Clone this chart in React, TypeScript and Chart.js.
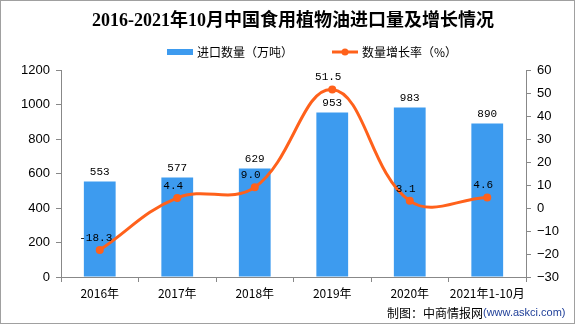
import React, { useEffect, useRef } from "react";
import { Chart, registerables } from "chart.js";

Chart.register(...registerables);

const categories = ["2016年", "2017年", "2018年", "2019年", "2020年", "2021年1-10月"];
const importVolume = [553, 577, 629, 953, 983, 890];
const growthRate = [-18.3, 4.4, 9.0, 51.5, 3.1, 4.6];

const TITLE = "2016-2021年10月中国食用植物油进口量及增长情况";
const BAR_LABEL = "进口数量（万吨）";
const LINE_LABEL = "数量增长率（%）";
const SOURCE_CN = "制图：中商情报网";
const SOURCE_URL = "(www.askci.com)";

const BAR_COLOR = "#3d9bef";
const LINE_COLOR = "#ff611b";
const AXIS_COLOR = "#888888";
const CJK = "'Noto Sans CJK SC', 'Liberation Sans', sans-serif";

const decorPlugin = {
  id: "decor",
  afterDatasetsDraw(chart: any) {
    const ctx = chart.ctx;
    ctx.save();
    const barMeta = chart.getDatasetMeta(0);
    ctx.font = "11px 'Liberation Mono', monospace";
    ctx.fillStyle = "#000";
    ctx.textAlign = "center";
    ctx.textBaseline = "bottom";
    barMeta.data.forEach((el: any, i: number) => {
      ctx.fillText(String(importVolume[i]), el.x, el.y - 4);
    });
    const lineMeta = chart.getDatasetMeta(1);
    ctx.textBaseline = "middle";
    lineMeta.data.forEach((el: any, i: number) => {
      ctx.fillText(growthRate[i].toFixed(1), el.x - 4, el.y - 12);
    });
    ctx.restore();
  },
  afterDraw(chart: any) {
    const ctx = chart.ctx;
    ctx.save();
    ctx.strokeStyle = "#a0a0a0";
    ctx.lineWidth = 1;
    ctx.strokeRect(0.5, 0.5, 574, 323);
    ctx.fillStyle = "#000";
    ctx.font = "bold 18px 'Liberation Serif', 'Noto Sans CJK SC', serif";
    ctx.textAlign = "center";
    ctx.textBaseline = "middle";
    ctx.fillText(TITLE, 293, 21);
    ctx.textAlign = "left";
    ctx.font = "12px " + CJK;
    ctx.fillStyle = BAR_COLOR;
    ctx.fillRect(167, 49, 26, 6);
    ctx.fillStyle = "#000";
    ctx.fillText(BAR_LABEL, 197, 52);
    ctx.strokeStyle = LINE_COLOR;
    ctx.lineWidth = 3;
    ctx.beginPath();
    ctx.moveTo(332, 52);
    ctx.lineTo(358, 52);
    ctx.stroke();
    ctx.fillStyle = LINE_COLOR;
    ctx.beginPath();
    ctx.arc(345, 52, 3.5, 0, Math.PI * 2);
    ctx.fill();
    ctx.fillStyle = "#000";
    ctx.fillText(LINE_LABEL, 362, 52);
    ctx.font = "12px " + CJK;
    ctx.fillText(SOURCE_CN, 387, 313);
    const w = ctx.measureText(SOURCE_CN).width;
    ctx.font = "11px 'Liberation Sans', sans-serif";
    ctx.fillStyle = "#1f3f99";
    ctx.fillText(SOURCE_URL, 387 + w, 313);
    ctx.restore();
  },
};

export default function App() {
  const ref = useRef<HTMLCanvasElement>(null);
  useEffect(() => {
    if (!ref.current) return;
    const chart = new Chart(ref.current, {
      type: "bar",
      data: {
        labels: categories,
        datasets: [
          {
            type: "bar",
            label: BAR_LABEL,
            data: importVolume,
            backgroundColor: BAR_COLOR,
            barPercentage: 0.41,
            categoryPercentage: 1,
            yAxisID: "y",
            order: 2,
          },
          {
            type: "line",
            label: LINE_LABEL,
            data: growthRate,
            borderColor: LINE_COLOR,
            backgroundColor: LINE_COLOR,
            borderWidth: 3,
            pointRadius: 4,
            pointBackgroundColor: LINE_COLOR,
            pointBorderWidth: 0,
            tension: 0.4,
            yAxisID: "y1",
            order: 1,
          } as any,
        ],
      },
      options: {
        responsive: false,
        animation: false,
        devicePixelRatio: 1,
        layout: { padding: { top: 70, left: 0, right: 0, bottom: 0 } },
        plugins: {
          legend: { display: false },
          title: { display: false },
          tooltip: { enabled: false },
        },
        scales: {
          x: {
            offset: true,
            grid: {
              offset: true,
              drawOnChartArea: false,
              tickLength: 5,
              color: AXIS_COLOR,
            },
            border: { color: AXIS_COLOR },
            ticks: {
              color: "#000",
              padding: 4,
              font: { size: 12, family: CJK },
              maxRotation: 0,
              autoSkip: false,
            },
            afterFit: (s: any) => {
              s.height = 50;
            },
          },
          y: {
            position: "left",
            min: 0,
            max: 1200,
            grid: { drawOnChartArea: false, tickLength: 5, color: AXIS_COLOR },
            border: { color: AXIS_COLOR },
            ticks: {
              stepSize: 200,
              color: "#000",
              padding: 6,
              font: { size: 13, family: "'Liberation Sans', sans-serif" },
              callback: (v: any) => String(v),
            },
            afterFit: (s: any) => {
              s.width = 61;
            },
          },
          y1: {
            position: "right",
            min: -30,
            max: 60,
            grid: { drawOnChartArea: false, tickLength: 5, color: AXIS_COLOR },
            border: { color: AXIS_COLOR },
            ticks: {
              stepSize: 10,
              color: "#000",
              padding: 6,
              font: { size: 13, family: "'Liberation Sans', sans-serif" },
              callback: (v: any) => (v < 0 ? "\u2212" + Math.abs(v) : String(v)),
            },
            afterFit: (s: any) => {
              s.width = 50;
            },
          },
        },
      },
      plugins: [decorPlugin],
    });
    return () => chart.destroy();
  }, []);
  return (
    <div style={{ position: "fixed", left: 0, top: 0, width: 576, height: 327, background: "#fff" }}>
      <canvas ref={ref} width={576} height={327} style={{ display: "block" }} />
    </div>
  );
}
